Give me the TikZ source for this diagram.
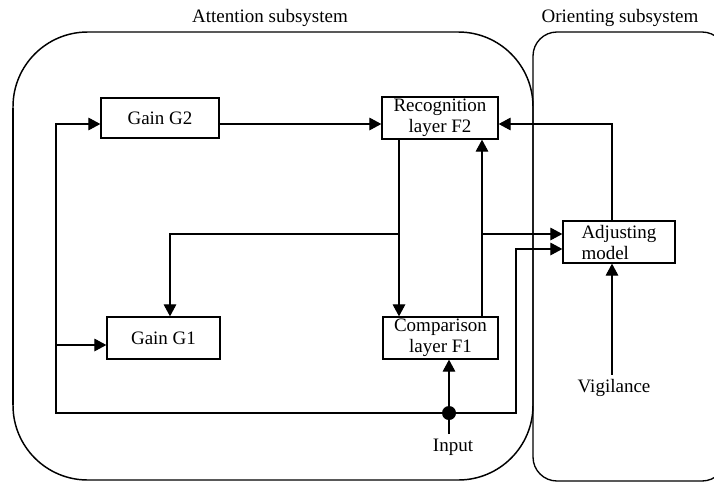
\documentclass[tikz,border=0pt]{standalone}
\usepackage{fontspec}
\setmainfont{Liberation Serif}
\usepackage{tikz}
\usetikzlibrary{positioning,calc,arrows.meta}

\begin{document}
\begin{tikzpicture}[x=0.75pt,y=-0.75pt,
    font=\fontsize{14.25}{15.75}\selectfont,
    block/.style={draw, line width=1pt, inner sep=1pt, align=center, minimum height=31.5pt},
    wire/.style={line width=0.8pt},
    arr/.style={wire, -{Triangle[length=9pt,width=9.5pt]}},
    joint/.style={circle, fill, inner sep=0pt, minimum size=10.5pt}]
    \useasboundingbox (0,0) rectangle (714,482);

    % Subsystems
    \draw[line width=1.1pt, rounded corners=56pt] (13,32) rectangle (533,480);
    \draw[line width=2.2pt] (13,108) -- (13,405);
    \draw[line width=1pt, rounded corners=18pt] (533,32) rectangle (726,481);
    \node (att) at (270,18) {Attention subsystem};
    \node (ori) at (620,18) {Orienting subsystem};

    % Blocks
    \node[block, minimum width=88.5pt, minimum height=30pt] (g2) at (160,118) {Gain G2};
    \node[block, minimum width=84.75pt] (g1) at (163.5,338) {Gain G1};
    \node[block, minimum width=87pt] (f2) at (440,118) {Recognition\\layer F2};
    \node[block, minimum width=86.25pt] (f1) at (440.5,338) {Comparison\\layer F1};
    \node[block, minimum width=84pt, align=left] (adj) at (619,242) {Adjusting\\model};
    \node (inp) at (453,447) {Input};
    \node (vig) at (614,388) {Vigilance};
    \node[joint] (dot) at (449,413) {};

    % Corners of the wires
    \coordinate (bl) at (56,413);
    \coordinate (tl) at (56,124);
    \coordinate (ml) at (56,345);
    \coordinate (br) at (516,413);
    \coordinate (rt) at (516,249);
    \coordinate (dn) at (399,234);
    \coordinate (gk) at (170,234);
    \coordinate (up) at (482,234);
    \coordinate (rk) at (612,124);

    % Input and gain paths
    \draw[wire] (inp.north -| dot) -- (dot);
    \draw[arr] (dot) -- (dot |- f1.south);
    \draw[arr] (dot) -- (bl) -- (tl) -- (g2.west |- tl);
    \draw[arr] (ml) -- (g1.west |- ml);
    \draw[arr] (dot) -- (br) -- (rt) -- (adj.west |- rt);
    \draw[arr] (g2.east |- tl) -- (f2.west |- tl);

    % F1 / F2 loop
    \draw[arr] (f2.south -| dn) -- (f1.north -| dn);
    \draw[arr] (dn) -- (gk) -- (g1.north -| gk);
    \draw[arr] (f1.north -| up) -- (f2.south -| up);
    \draw[arr] (up) -- (adj.west |- up);

    % Reset and vigilance
    \draw[arr] (adj.north -| rk) -- (rk) -- (f2.east |- rk);
    \draw[arr] (vig.north -| rk) -- (adj.south -| rk);
\end{tikzpicture}
\end{document}
